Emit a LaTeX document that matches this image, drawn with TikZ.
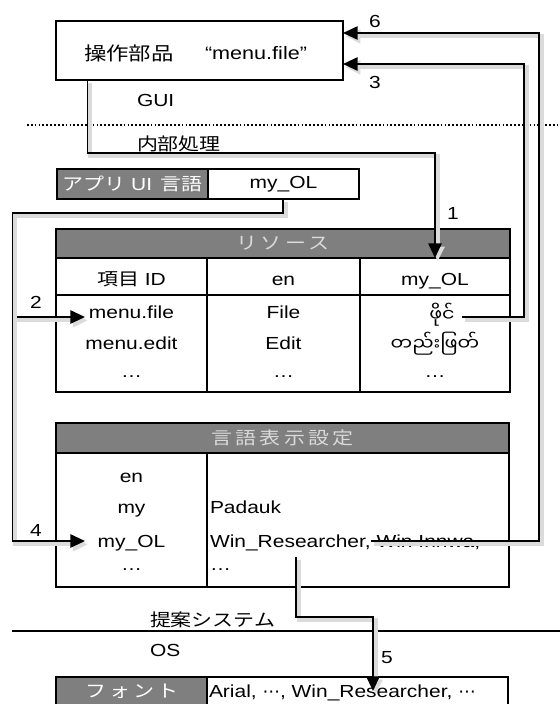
\documentclass[tikz,border=0pt]{standalone}
\usepackage{fontspec}
\setmainfont[FakeStretch=1.2]{Liberation Sans}
\newfontfamily\jpf[FakeStretch=1.2]{Noto Sans CJK JP}
\newfontfamily\jpfhd[FakeStretch=1.2,LetterSpace=18]{Noto Sans CJK JP}
\newfontfamily\mmfont[Script=Myanmar,FakeStretch=1.1]{Noto Sans Myanmar UI}
\newfontfamily\symf{DejaVu Sans}
\usetikzlibrary{arrows.meta,fit}
\definecolor{hgray}{HTML}{7F7F7F}
\definecolor{htxt}{HTML}{DADADA}
\begin{document}
\begin{tikzpicture}[x=0.75pt,y=-0.75pt,
  every node/.style={inner sep=0pt,outer sep=0pt},
  txt/.style={font=\fontsize{13.1}{15.5}\selectfont},
  box/.style={draw,line width=1.5pt,inner sep=0pt},
  hdr/.style={box,fill=hgray},
  conn/.style={line width=1.3pt,
    preaction={draw=black!14,line width=3pt,transform canvas={xshift=2pt,yshift=-2.5pt}}},
  tip/.style={-{Triangle[length=11pt,width=10pt]}}]
\useasboundingbox (0,0) rectangle (560,704);
\clip (0,0) rectangle (560,704);

% ---- GUI part
\node[box,fit={(56,21) (343,80)}] (gui) {};
\node[txt,anchor=west] (gui1) at (84,53) {\jpf\fontsize{14}{16}\selectfont 操作部品};
\node[txt,anchor=west] (gui2) at (205,53) {\fontsize{13.5}{16}\selectfont “menu.file”};
\node[txt,anchor=west] (lgui) at (137,100) {GUI};
\draw[line width=1.3pt,dash pattern=on 1.3pt off 1.6pt] (27,125) -- (560,125);
\node[txt,anchor=west] (lint) at (137,144) {\jpf 内部処理};

% ---- app UI language
\node[hdr,fit={(57,169) (208,199)}] (uik) {};
\node[box,fit={(208,169) (359,199)}] (uiv) {};
\node[txt,text=white] at (uik) {{\jpf アプリ}\hspace{0.35em}UI\hspace{0.5em}{\jpf 言語}};
\node[txt] at (uiv) {my\_OL};

% ---- resource table
\node[hdr,fit={(56,229) (510,258)}] (rh) {};
\node[txt,text=htxt] at (rh) {\jpfhd リソース};
\node[box,fit={(56,258) (207,295)}] (r11) {};
\node[box,fit={(207,258) (360,295)}] (r12) {};
\node[box,fit={(360,258) (510,295)}] (r13) {};
\node[box,fit={(56,295) (207,392)}] (r21) {};
\node[box,fit={(207,295) (360,392)}] (r22) {};
\node[box,fit={(360,295) (510,392)}] (r23) {};
\node[txt,anchor=base] at (131.5,285) {{\jpf 項目} ID};
\node[txt,anchor=base] at (283.5,285) {en};
\node[txt,anchor=base] at (435,285) {my\_OL};
\node[txt,anchor=base] (mfile) at (131.5,318) {menu.file};
\node[txt,anchor=base] (medit) at (131.5,349) {menu.edit};
\node[txt,anchor=base] (rd1) at (131.5,377) {…};
\node[txt,anchor=base] (efile) at (283.5,318) {File};
\node[txt,anchor=base] (eedit) at (283.5,349) {Edit};
\node[txt,anchor=base] (rd2) at (283.5,377) {…};
\node[txt,anchor=base] (mm1) at (442,321) {\mmfont ဖိုင်};
\node[txt,anchor=base] (mm2) at (435,350) {\mmfont တည်းဖြတ်};
\node[txt,anchor=base] (rd3) at (435,377) {…};

% ---- language display settings
\node[hdr,fit={(56,423) (509,453)}] (lh) {};
\node[txt,text=htxt] at (lh) {\jpfhd 言語表示設定};
\node[box,fit={(56,453) (207,587)}] (l1) {};
\node[box,fit={(207,453) (509,587)}] (l2) {};
\node[txt,anchor=base] (len) at (131.5,482) {en};
\node[txt,anchor=base] (lmy) at (131.5,513) {my};
\node[txt,anchor=base] (lmyol) at (131.5,547) {my\_OL};
\node[txt,anchor=base] (ld1) at (131.5,570) {…};
\node[txt,anchor=base west] (fpad) at (210,513) {Padauk};
\node[txt,anchor=base west] (fwin) at (210,547) {Win\_Researcher, Win Innwa,};
\node[txt,anchor=base west] (fd) at (210,570) {…};

% ---- system / OS
\node[txt,anchor=west] (lprop) at (150,620) {\jpf 提案システム};
\draw[line width=1.2pt] (12,631) -- (560,631);
\node[txt,anchor=west] (los) at (150,650) {OS};

% ---- font table
\node[hdr,fit={(56,677) (207,716)}] (fk) {};
\node[box,fit={(207,677) (508,716)}] (fv) {};
\node[txt,anchor=base,text=white] at (132,697) {\jpfhd フォント};
\node[txt,anchor=base west] at (209,697) {Arial, {\symf ⋯}, Win\_Researcher, {\symf ⋯}};

% ---- connectors
\coordinate (s1) at (87.5,80);
\coordinate (b1) at (435,153);
\draw[conn,tip] (s1) |- (b1) -- (b1 |- rh.south);
\node[txt] (n1) at (453,213) {1};

\coordinate (s2) at (283,199);
\coordinate (b2) at (12.5,213);
\coordinate (t2) at (85,317);
\coordinate (t4) at (85,541);
\draw[conn,tip] (s2) |- (b2) |- (t2);
\draw[conn,tip] (b2) |- (t4);
\node[txt] (n2) at (36,302) {2};
\node[txt] (n4) at (36,530) {4};

\coordinate (s3) at (462,317);
\coordinate (c3) at (524,64);
\draw[conn,tip] (s3) -| (c3) -- (c3 -| gui.east);
\node[txt] (n3) at (375,82) {3};

\coordinate (s6) at (371,541);
\coordinate (c6) at (539,33);
\draw[conn,tip] (s6) -| (c6) -- (c6 -| gui.east);
\node[txt] (n6) at (375,21) {6};

\coordinate (s5) at (296,557);
\coordinate (b5) at (373,617);
\coordinate (t5) at (373,691);
\draw[conn,tip] (s5) |- (b5) -- (t5);
\node[txt] (n5) at (387,658) {5};
\end{tikzpicture}
\end{document}
